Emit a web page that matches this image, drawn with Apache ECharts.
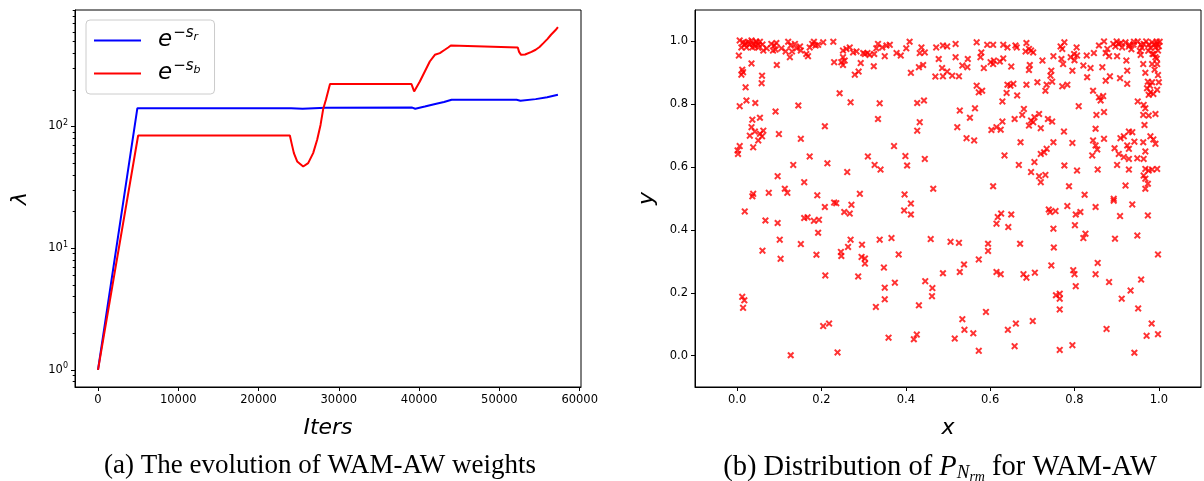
<!DOCTYPE html>
<html>
<head>
<meta charset="utf-8">
<title>WAM-AW weights and distribution</title>
<script src="https://cdn.jsdelivr.net/npm/echarts@6/dist/echarts.min.js"></script>
<style>
html, body { margin: 0; padding: 0; background: #fff; }
#chart { width: 1204px; height: 481px; }
</style>
</head>
<body>
<div id="chart"></div>
<script>
// (a) evolution of the weights
const itersR = [0, 4905, 24050, 25480, 28330, 39140, 39520, 40710, 42140, 43100, 44050, 52140, 52620, 54520, 55950, 57290];
const lambdaR = [1, 141.5, 141.5, 140, 142.5, 143, 140, 146, 153.6, 158.7, 165.7, 165.7, 162.6, 167.8, 174, 182];

const itersB = [0, 5000, 23900, 24110, 24400, 24810, 25560, 26180, 26800, 27300, 27720, 28050, 28390, 28900, 39050, 39380,
  40090, 40710, 41330, 41960, 42580, 43200, 43620, 43950, 44100, 52290, 52450, 52700, 53200, 54000, 54520, 55000, 55480,
  56000, 56430, 57000, 57290];
const lambdaB = [1, 84.3, 84.3, 73, 60.4, 51.6, 46.9, 50, 60.4, 77.8, 103, 139, 166, 223, 223, 194,
  234, 283, 342, 388, 401, 427, 446, 463, 446, 445, 410, 388, 390, 410, 427, 450, 484,
  525, 567, 620, 655];

const iterTicks = [0, 10000, 20000, 30000, 40000, 50000, 60000];
const lambdaTicks = [1, 10, 100];
const lambdaMinorTicks = [0.8, 0.9, 2, 3, 4, 5, 6, 7, 8, 9, 20, 30, 40, 50, 60, 70, 80, 90, 200, 300, 400, 500, 600, 700, 800, 900];

// (b) distribution of P_Nrm
const unitTicks = [0, 0.2, 0.4, 0.6, 0.8, 1.0];
const samplePoints = [
  [0.006,1.003],[0.014,0.997],[0.010,0.981],[0.018,0.989],[0.026,0.999],[0.034,1.003],[0.038,0.992],[0.042,0.984],[0.046,0.997],[0.050,0.989],
  [0.054,0.999],[0.036,0.981],[0.022,0.981],[0.062,0.971],[0.070,0.978],[0.081,0.992],[0.088,0.987],[0.091,0.974],[0.085,0.971],[0.093,0.995],
  [0.105,0.978],[0.115,0.968],[0.121,0.999],[0.127,0.987],[0.130,0.968],[0.137,0.992],[0.141,0.978],[0.149,0.984],[0.151,0.971],[0.164,0.960],
  [0.168,0.953],[0.172,0.981],[0.178,0.992],[0.182,0.999],[0.186,0.987],[0.192,0.989],[0.204,0.997],[0.228,0.999],[0.251,0.971],[0.259,0.976],
  [0.267,0.981],[0.275,0.965],[0.283,0.968],[0.299,0.963],[0.303,0.960],[0.309,0.963],[0.314,0.957],[0.325,0.960],[0.330,0.978],[0.334,0.992],
  [0.344,0.981],[0.350,0.953],[0.354,0.987],[0.362,0.989],[0.378,0.963],[0.388,0.955],[0.401,0.978],[0.409,0.999],[0.433,0.963],[0.437,0.981],
  [0.445,0.965],[0.472,0.981],[0.488,0.987],[0.478,0.944],[0.486,0.915],[0.470,0.888],[0.488,0.889],[0.004,0.955],[0.125,0.950],[0.251,0.950],
  [0.247,0.934],[0.251,0.925],[0.255,0.939],[0.230,0.934],[0.293,0.931],[0.324,0.921],[0.094,0.925],[0.034,0.930],[0.012,0.910],[0.014,0.902],
  [0.010,0.894],[0.059,0.891],[0.058,0.867],[0.020,0.854],[0.288,0.904],[0.279,0.894],[0.412,0.900],[0.431,0.918],[0.441,0.925],[0.243,0.835],
  [0.022,0.812],[0.006,0.794],[0.043,0.804],[0.145,0.796],[0.091,0.777],[0.269,0.806],[0.338,0.803],[0.427,0.804],[0.443,0.812],[0.036,0.751],
  [0.054,0.757],[0.334,0.753],[0.433,0.743],[0.427,0.716],[0.208,0.730],[0.034,0.727],[0.030,0.700],[0.042,0.713],[0.054,0.706],[0.059,0.698],
  [0.062,0.716],[0.050,0.685],[0.038,0.663],[0.099,0.705],[0.151,0.690],[0.006,0.667],[0.001,0.653],[0.002,0.642],[0.372,0.667],[0.172,0.634],
  [0.310,0.634],[0.399,0.635],[0.445,0.626],[0.133,0.607],[0.214,0.612],[0.326,0.607],[0.340,0.592],[0.403,0.605],[0.261,0.584],[0.096,0.571],
  [0.159,0.552],[0.113,0.531],[0.119,0.518],[0.465,0.531],[0.038,0.515],[0.036,0.507],[0.075,0.518],[0.190,0.510],[0.291,0.515],[0.397,0.513],
  [0.498,0.984],[0.518,0.992],[0.568,0.997],[0.593,0.989],[0.607,0.989],[0.631,0.989],[0.641,0.981],[0.660,0.987],[0.663,0.981],[0.686,0.995],
  [0.697,0.971],[0.702,0.965],[0.692,0.976],[0.684,0.968],[0.771,0.976],[0.767,0.984],[0.776,0.997],[0.805,0.981],[0.799,0.960],[0.806,0.955],
  [0.829,0.955],[0.846,0.963],[0.858,0.987],[0.878,0.976],[0.874,0.963],[0.882,0.953],[0.892,0.992],[0.897,0.984],[0.905,0.992],[0.913,0.981],
  [0.921,0.997],[0.929,0.984],[0.941,0.999],[0.957,0.989],[0.964,0.992],[0.976,0.989],[0.984,0.997],[0.992,0.981],[0.996,0.992],[1.002,0.999],
  [0.901,0.953],[0.923,0.939],[0.957,0.957],[0.963,0.928],[0.988,0.960],[0.992,0.950],[0.996,0.928],[0.998,0.971],[0.579,0.965],[0.577,0.950],
  [0.518,0.950],[0.547,0.944],[0.601,0.934],[0.609,0.939],[0.623,0.936],[0.631,0.946],[0.607,0.928],[0.650,0.920],[0.694,0.925],[0.692,0.909],
  [0.724,0.939],[0.750,0.953],[0.769,0.944],[0.773,0.928],[0.791,0.950],[0.800,0.940],[0.795,0.907],[0.821,0.923],[0.838,0.915],[0.866,0.918],
  [0.908,0.883],[0.925,0.907],[0.925,0.865],[0.968,0.900],[0.984,0.928],[0.998,0.893],[0.974,0.872],[0.979,0.859],[0.984,0.870],[0.972,0.851],
  [0.980,0.838],[0.976,0.830],[0.996,0.846],[0.987,0.833],[0.884,0.889],[0.874,0.875],[0.830,0.886],[0.498,0.904],[0.510,0.891],[0.526,0.889],
  [0.534,0.923],[0.546,0.918],[0.585,0.915],[0.568,0.859],[0.573,0.838],[0.581,0.843],[0.641,0.862],[0.648,0.859],[0.655,0.865],[0.639,0.836],
  [0.664,0.828],[0.686,0.862],[0.712,0.870],[0.734,0.862],[0.731,0.843],[0.747,0.872],[0.743,0.891],[0.745,0.907],[0.771,0.857],[0.783,0.862],
  [0.844,0.843],[0.858,0.822],[0.862,0.812],[0.868,0.826],[0.810,0.794],[0.629,0.809],[0.680,0.785],[0.676,0.766],[0.658,0.753],[0.697,0.748],
  [0.705,0.759],[0.716,0.769],[0.692,0.732],[0.702,0.743],[0.720,0.724],[0.737,0.753],[0.747,0.745],[0.564,0.787],[0.552,0.757],[0.528,0.780],
  [0.522,0.727],[0.603,0.718],[0.615,0.727],[0.625,0.719],[0.629,0.745],[0.852,0.766],[0.870,0.775],[0.775,0.713],[0.850,0.722],[0.950,0.809],
  [0.964,0.798],[0.968,0.787],[0.963,0.766],[0.976,0.764],[0.992,0.769],[0.966,0.734],[0.672,0.679],[0.634,0.637],[0.668,0.607],[0.705,0.616],
  [0.728,0.647],[0.734,0.658],[0.720,0.642],[0.750,0.679],[0.795,0.677],[0.844,0.685],[0.850,0.669],[0.854,0.656],[0.842,0.637],[0.870,0.690],
  [0.895,0.660],[0.909,0.692],[0.917,0.698],[0.929,0.713],[0.937,0.711],[0.942,0.681],[0.929,0.658],[0.925,0.669],[0.905,0.642],[0.917,0.632],
  [0.929,0.626],[0.949,0.628],[0.964,0.626],[0.963,0.679],[0.968,0.650],[0.980,0.698],[0.987,0.688],[0.992,0.674],[0.901,0.607],[0.929,0.592],
  [0.968,0.594],[0.976,0.589],[0.984,0.592],[0.996,0.594],[0.964,0.573],[0.968,0.563],[0.855,0.592],[0.806,0.589],[0.776,0.605],[0.697,0.584],
  [0.716,0.571],[0.731,0.575],[0.720,0.552],[0.607,0.539],[0.787,0.539],[0.824,0.512],[0.921,0.541],[0.974,0.547],[0.968,0.531],[0.893,0.499],
  [0.544,0.692],[0.562,0.685],
  [0.018,0.459],[0.067,0.430],[0.096,0.422],[0.159,0.438],[0.167,0.440],[0.182,0.429],[0.194,0.432],[0.208,0.473],[0.230,0.487],[0.235,0.485],
  [0.254,0.457],[0.267,0.452],[0.271,0.480],[0.192,0.391],[0.101,0.369],[0.151,0.355],[0.060,0.334],[0.103,0.308],[0.188,0.321],[0.246,0.330],
  [0.247,0.317],[0.263,0.346],[0.269,0.369],[0.296,0.353],[0.295,0.314],[0.303,0.309],[0.303,0.293],[0.338,0.369],[0.366,0.374],[0.383,0.322],
  [0.396,0.462],[0.412,0.484],[0.412,0.449],[0.459,0.371],[0.488,0.262],[0.348,0.280],[0.209,0.255],[0.287,0.252],[0.350,0.216],[0.374,0.232],
  [0.446,0.237],[0.463,0.215],[0.462,0.189],[0.350,0.179],[0.329,0.155],[0.431,0.160],[0.012,0.187],[0.017,0.176],[0.014,0.152],[0.204,0.094],
  [0.218,0.102],[0.359,0.057],[0.419,0.052],[0.426,0.067],[0.127,0.001],[0.238,0.010],
  [0.893,0.493],[0.937,0.481],[0.850,0.473],[0.783,0.476],[0.739,0.465],[0.742,0.457],[0.755,0.460],[0.803,0.449],[0.814,0.457],[0.908,0.444],
  [0.974,0.446],[0.626,0.452],[0.618,0.441],[0.650,0.449],[0.615,0.420],[0.643,0.409],[0.750,0.404],[0.801,0.415],[0.826,0.388],[0.821,0.374],
  [0.896,0.372],[0.949,0.382],[0.506,0.362],[0.526,0.359],[0.595,0.356],[0.595,0.333],[0.671,0.356],[0.751,0.344],[0.998,0.322],[0.573,0.306],
  [0.538,0.290],[0.528,0.266],[0.615,0.266],[0.625,0.259],[0.679,0.259],[0.686,0.248],[0.706,0.264],[0.745,0.287],[0.797,0.272],[0.800,0.259],
  [0.855,0.295],[0.850,0.259],[0.882,0.234],[0.958,0.242],[0.803,0.221],[0.933,0.207],[0.912,0.181],[0.756,0.192],[0.765,0.197],[0.765,0.181],
  [0.951,0.150],[0.765,0.147],[0.590,0.139],[0.534,0.116],[0.539,0.082],[0.560,0.071],[0.516,0.054],[0.642,0.082],[0.661,0.102],[0.701,0.110],
  [0.876,0.085],[0.983,0.102],[0.971,0.063],[0.998,0.068],[0.573,0.015],[0.658,0.030],[0.765,0.018],[0.795,0.033],[0.942,0.009],
  [0.900,1.000],[0.910,0.995],[0.930,0.990],[0.950,1.000],[0.960,0.980],[0.970,1.000],[0.980,0.980],[0.990,0.990],[1.000,0.985],[0.995,1.000],
  [0.975,0.970],[0.985,0.960],[0.940,0.990],[0.870,1.000],[0.030,0.990],[0.045,1.000],[0.020,0.995],[0.060,0.990],[0.050,0.980],[0.935,0.975],
  [0.955,0.970],[0.995,0.945],[0.990,0.910],[1.000,0.870]
];

const zip = (xs, ys) => xs.map((x, i) => [x, ys[i]]);

const tickFont = { fontFamily: 'DejaVu Sans', fontSize: 11.5, color: '#000' };
const nameFont = { fontFamily: 'DejaVu Sans', fontStyle: 'italic', fontSize: 22, color: '#000' };
const axisLine = { show: true, onZero: false, lineStyle: { color: '#000', width: 1 } };
const mathFont = { fontFamily: 'DejaVu Sans', fontStyle: 'italic', color: '#000' };
const capFont = { fontFamily: 'Liberation Serif', fontSize: 27, fontWeight: 'normal', color: '#000' };
const capFontB = Object.assign({}, capFont, { fontSize: 28.5 });

// matplotlib 'x' marker
const crossMark = 'path://M0,2L2,0L5,3L8,0L10,2L7,5L10,8L8,10L5,7L2,10L0,8L3,5Z';

const chart = echarts.init(document.getElementById('chart'), null, { renderer: 'canvas' });

const option = {
  animation: false,
  backgroundColor: '#fff',
  title: [
    {
      text: '(a) The evolution of WAM-AW weights',
      left: 320, top: 452, padding: 0, textAlign: 'center',
      textStyle: capFont
    },
    {
      text: '{t|(b) Distribution of }{p|P}{n|N}{m|rm}{t| for WAM-AW}',
      left: 940, top: 451, padding: 0, textAlign: 'center',
      textStyle: {
        fontWeight: 'normal',
        rich: {
          t: capFontB,
          p: Object.assign({}, capFontB, { fontStyle: 'italic' }),
          n: Object.assign({}, capFontB, { fontStyle: 'italic', fontSize: 19, padding: [10, 0, 0, 0] }),
          m: Object.assign({}, capFontB, { fontStyle: 'italic', fontSize: 14, padding: [19, 0, 0, 0] })
        }
      }
    }
  ],
  legend: {
    orient: 'vertical',
    left: 86, top: 20,
    padding: [6, 14, 9, 8],
    itemGap: 7,
    itemWidth: 47, itemHeight: 2,
    icon: 'rect',
    borderColor: '#cccccc', borderWidth: 1, borderRadius: 4,
    backgroundColor: 'rgba(255,255,255,0.8)',
    data: ['r', 'b'],
    formatter: name => '{e|e}{sup|\u2212s}{sub|' + name + '}',
    textStyle: {
      rich: {
        e: Object.assign({}, mathFont, { fontSize: 23, padding: [0, 0, 0, 12] }),
        sup: Object.assign({}, mathFont, { fontSize: 15, padding: [0, 0, 14, 1] }),
        sub: Object.assign({}, mathFont, { fontSize: 11, padding: [0, 0, 6, 0] })
      }
    }
  },
  grid: [
    { left: 75, right: 623, top: 10, bottom: 94, show: true, borderColor: '#000', borderWidth: 1, outerBoundsMode: 'none' },
    { left: 695, right: 3, top: 10, bottom: 94, show: true, borderColor: '#000', borderWidth: 1, outerBoundsMode: 'none' }
  ],
  xAxis: [
    {
      gridIndex: 0, type: 'value', min: -2865, max: 60165,
      axisLine: axisLine,
      axisTick: { customValues: iterTicks, length: 4, lineStyle: { color: '#000' } },
      axisLabel: Object.assign({ customValues: iterTicks, margin: 7, formatter: v => String(v) }, tickFont),
      splitLine: { show: false },
      name: 'Iters', nameLocation: 'middle', nameGap: 30, nameTextStyle: nameFont
    },
    {
      gridIndex: 1, type: 'value', min: -0.1, max: 1.1,
      axisLine: axisLine,
      axisTick: { customValues: unitTicks, length: 4, lineStyle: { color: '#000' } },
      axisLabel: Object.assign({ customValues: unitTicks, margin: 7, formatter: v => v.toFixed(1) }, tickFont),
      splitLine: { show: false },
      name: 'x', nameLocation: 'middle', nameGap: 30, nameTextStyle: nameFont
    }
  ],
  yAxis: [
    {
      gridIndex: 0, type: 'log', logBase: 10, min: 0.723, max: 906, position: 'left',
      axisLine: axisLine,
      axisTick: { customValues: lambdaTicks, length: 4, lineStyle: { color: '#000' } },
      axisLabel: {
        customValues: lambdaTicks, margin: 7,
        formatter: v => '{b|10}{s|' + Math.round(Math.log10(v)) + '}',
        rich: {
          b: tickFont,
          s: Object.assign({}, tickFont, { fontSize: 8, padding: [0, 0, 7, 0] })
        }
      },
      splitLine: { show: false },
      name: '\u03bb', nameLocation: 'middle', nameGap: 44, nameRotate: 90, nameTextStyle: nameFont
    },
    {
      gridIndex: 0, type: 'log', logBase: 10, min: 0.723, max: 906, position: 'left',
      axisLine: { show: false, onZero: false },
      axisTick: { customValues: lambdaMinorTicks, length: 2.3, lineStyle: { color: '#000' } },
      axisLabel: { show: false },
      splitLine: { show: false }
    },
    {
      gridIndex: 1, type: 'value', min: -0.1, max: 1.1,
      axisLine: axisLine,
      axisTick: { customValues: unitTicks, length: 4, lineStyle: { color: '#000' } },
      axisLabel: Object.assign({ customValues: unitTicks, margin: 7, formatter: v => v.toFixed(1) }, tickFont),
      splitLine: { show: false },
      name: 'y', nameLocation: 'middle', nameGap: 37, nameRotate: 90, nameTextStyle: nameFont
    }
  ],
  series: [
    {
      name: 'r', type: 'line', xAxisIndex: 0, yAxisIndex: 0,
      data: zip(itersR, lambdaR),
      symbol: 'none', smooth: false,
      lineStyle: { color: '#0000ff', width: 2 }, itemStyle: { color: '#0000ff' }
    },
    {
      name: 'b', type: 'line', xAxisIndex: 0, yAxisIndex: 0,
      data: zip(itersB, lambdaB),
      symbol: 'none', smooth: false,
      lineStyle: { color: '#ff0000', width: 2 }, itemStyle: { color: '#ff0000' }
    },
    {
      name: 'P', type: 'scatter', xAxisIndex: 1, yAxisIndex: 2,
      data: samplePoints,
      symbol: crossMark, symbolSize: 7,
      itemStyle: { color: '#ff0000' }
    }
  ]
};

chart.setOption(option);
</script>
</body>
</html>
